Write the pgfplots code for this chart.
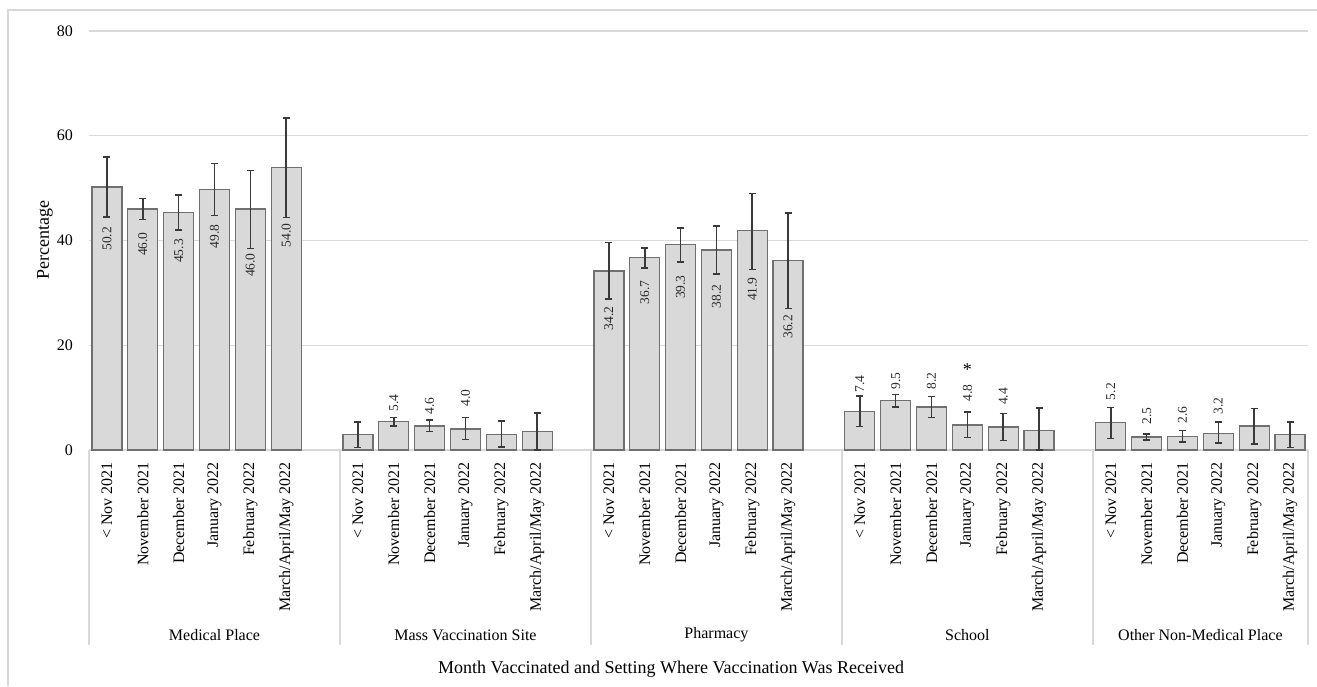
\documentclass[border=0pt]{standalone}
\usepackage{fontspec}
\setmainfont{Liberation Serif}
\usepackage{pgfplots}
\usepackage{pgfplotstable}
\pgfplotsset{compat=1.18}
\definecolor{barfill}{HTML}{D9D9D9}
\definecolor{baredge}{HTML}{707070}
\definecolor{errc}{HTML}{3A3A3A}
\definecolor{gridc}{HTML}{D9D9D9}
\definecolor{labc}{HTML}{2A2A2A}

% x = slot centre, y = percentage, ep/em = upper/lower error
\pgfplotstableread{
x y ep em
0.5 50.2 5.8 5.7
1.5 46.0 2.0 2.0
2.5 45.3 3.4 3.3
3.5 49.8 4.9 5.0
4.5 46.0 7.4 7.5
5.5 54.0 9.4 9.6
7.5 2.9 2.5 2.45
8.5 5.4 0.8 0.8
9.5 4.6 1.1 1.1
10.5 4.0 2.2 2.0
11.5 3.0 2.5 2.4
12.5 3.5 3.6 3.5
14.5 34.2 5.4 5.4
15.5 36.7 1.9 1.9
16.5 39.3 3.1 3.4
17.5 38.2 4.6 4.6
18.5 41.9 7.1 7.4
19.5 36.2 9.1 9.2
21.5 7.4 2.9 2.9
22.5 9.5 1.1 1.3
23.5 8.2 2.0 2.0
24.5 4.8 2.5 2.4
25.5 4.4 2.6 2.6
26.5 3.7 4.3 3.7
28.5 5.2 2.9 3.0
29.5 2.5 0.6 0.6
30.5 2.6 1.1 1.1
31.5 3.2 2.1 1.9
32.5 4.6 3.3 3.4
33.5 2.9 2.4 2.4
}\bardata

% labels inside the bars (top of text at y)
\pgfplotstableread{
x y lab
0.5 42.6 50.2
1.5 41.6 46.0
2.5 40.3 45.3
3.5 43.1 49.8
4.5 37.6 46.0
5.5 43.3 54.0
14.5 27.4 34.2
15.5 32.4 36.7
16.5 33.4 39.3
17.5 31.6 38.2
18.5 33.0 41.9
19.5 25.8 36.2
}\inlabels

% labels above the bars (bottom of text at y)
\pgfplotstableread{
x y lab
8.5 7.3 5.4
9.5 6.7 4.6
10.5 8.3 4.0
21.5 10.9 7.4
22.5 11.5 9.5
23.5 11.5 8.2
24.5 9.2 4.8
25.5 8.6 4.4
28.5 9.5 5.2
29.5 4.8 2.5
30.5 5.0 2.6
31.5 6.7 3.2
}\outlabels

\begin{document}
\begin{tikzpicture}
\useasboundingbox (0pt,0pt) rectangle (1317pt,686pt);
\draw[gridc, line width=1.5pt] (8pt,0pt) -- (8pt,676pt) -- (1320pt,676pt);
\begin{axis}[
  at={(89pt,236pt)}, anchor=south west,
  scale only axis, width=1219pt, height=419pt,
  xmin=0, xmax=34, ymin=0, ymax=80,
  ytick={0,20,40,60,80},
  ymajorgrids, grid style={gridc, line width=1.3pt},
  axis line style={draw=none},
  major tick length=0pt,
  xtick={0.5,1.5,2.5,3.5,4.5,5.5,7.5,8.5,9.5,10.5,11.5,12.5,14.5,15.5,16.5,17.5,18.5,19.5,21.5,22.5,23.5,24.5,25.5,26.5,28.5,29.5,30.5,31.5,32.5,33.5},
  xticklabels={{< Nov 2021},{November 2021},{December 2021},{January 2022},{February 2022},{March/April/May 2022},
               {< Nov 2021},{November 2021},{December 2021},{January 2022},{February 2022},{March/April/May 2022},
               {< Nov 2021},{November 2021},{December 2021},{January 2022},{February 2022},{March/April/May 2022},
               {< Nov 2021},{November 2021},{December 2021},{January 2022},{February 2022},{March/April/May 2022},
               {< Nov 2021},{November 2021},{December 2021},{January 2022},{February 2022},{March/April/May 2022}},
  xticklabel style={rotate=90, anchor=east, inner sep=0pt, font=\fontsize{16}{18}\selectfont},
  xticklabel shift=12pt,
  yticklabel style={anchor=east, inner sep=0pt, font=\fontsize{16}{18}\selectfont},
  yticklabel shift=16pt,
  /pgf/number format/assume math mode=true,
  clip=false,
]
\addplot[ybar, bar width=30pt, fill=barfill, draw=baredge, line width=1.3pt,
  error bars/.cd, y dir=both, y explicit,
  error bar style={draw=errc, line width=1.6pt},
  error mark options={rotate=90, draw=errc, line width=1.6pt, mark size=3.5pt}]
  table[x=x, y=y, y error plus=ep, y error minus=em] {\bardata};

\addplot[draw=none, mark=none, nodes near coords, point meta=explicit symbolic,
  every node near coord/.append style={rotate=90, anchor=east, inner sep=0pt,
    font=\fontsize{13.5}{15}\selectfont, text=labc}]
  table[x=x, y=y, meta=lab] {\inlabels};

\addplot[draw=none, mark=none, nodes near coords, point meta=explicit symbolic,
  every node near coord/.append style={rotate=90, anchor=west, inner sep=0pt,
    font=\fontsize{13.5}{15}\selectfont, text=labc}]
  table[x=x, y=y, meta=lab] {\outlabels};

\addplot[draw=none, mark=none, nodes near coords, point meta=explicit symbolic,
  every node near coord/.append style={anchor=center, inner sep=0pt,
    font=\fontsize{18}{18}\selectfont}]
  coordinates {(24.5,15.3) [*]};

\draw[gridc, line width=1.3pt] (axis cs:0,0) -- ++(0,-195pt);
\draw[gridc, line width=1.3pt] (axis cs:7,0) -- ++(0,-195pt);
\draw[gridc, line width=1.3pt] (axis cs:14,0) -- ++(0,-195pt);
\draw[gridc, line width=1.3pt] (axis cs:21,0) -- ++(0,-195pt);
\draw[gridc, line width=1.3pt] (axis cs:28,0) -- ++(0,-195pt);
\draw[gridc, line width=1.3pt] (axis cs:34,0) -- ++(0,-195pt);

\node[font=\fontsize{16}{18}\selectfont, yshift=-185pt] at (axis cs:3.5,0) {Medical Place};
\node[font=\fontsize{16}{18}\selectfont, yshift=-185pt] at (axis cs:10.5,0) {Mass Vaccination Site};
\node[font=\fontsize{16}{18}\selectfont, yshift=-185pt] at (axis cs:17.5,0) {Pharmacy};
\node[font=\fontsize{16}{18}\selectfont, yshift=-185pt] at (axis cs:24.5,0) {School};
\node[font=\fontsize{16}{18}\selectfont, yshift=-185pt] at (axis cs:31,0) {Other Non-Medical Place};
\end{axis}
\node[font=\fontsize{18}{20}\selectfont] at (671pt,17pt) {Month Vaccinated and Setting Where Vaccination Was Received};
\node[rotate=90, font=\fontsize{18}{20}\selectfont] at (45pt,446pt) {Percentage};
\end{tikzpicture}
\end{document}
